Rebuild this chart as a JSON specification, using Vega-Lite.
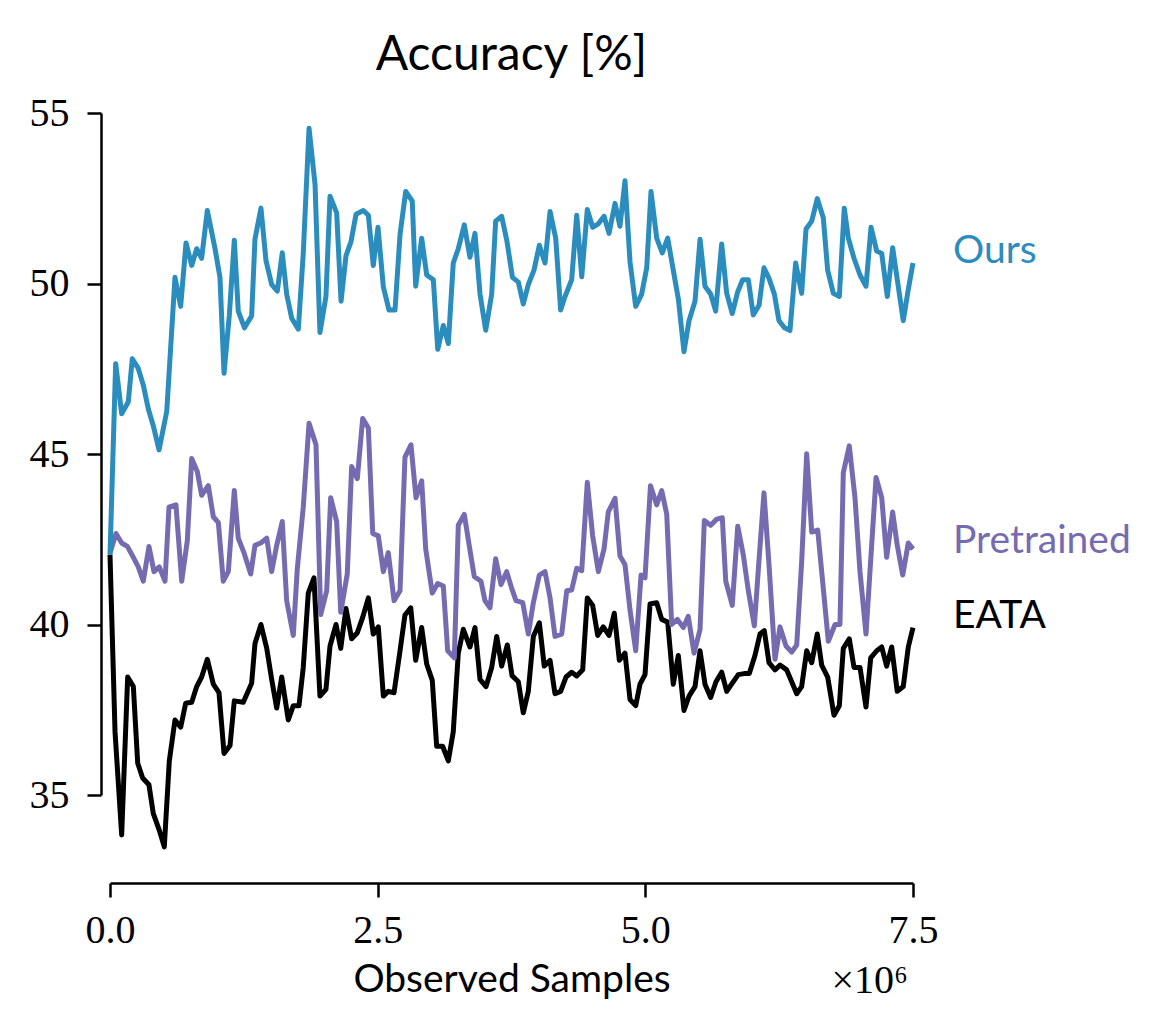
{
  "$schema": "https://vega.github.io/schema/vega-lite/v6.json",
  "width": 803,
  "height": 682,
  "autosize": "none",
  "padding": {"left": 110, "top": 113, "right": 250, "bottom": 239},
  "background": "white",
  "title": {"text": "Accuracy [%]", "font": "Lato", "fontSize": 48, "fontWeight": "normal", "color": "black", "anchor": "middle", "frame": "group", "baseline": "bottom", "offset": 33, "dy": 68},
  "config": {"view": {"stroke": null}},
  "datasets": {
    "ours": [
      {"x":0,"y":42.04},{"x":0.053,"y":47.65},{"x":0.109,"y":46.18},{"x":0.171,"y":46.53},{"x":0.208,"y":47.79},{"x":0.264,"y":47.51},{"x":0.311,"y":47.02},{"x":0.358,"y":46.32},{"x":0.404,"y":45.83},{"x":0.458,"y":45.12},{"x":0.53,"y":46.25},{"x":0.607,"y":50.18},{"x":0.66,"y":49.33},{"x":0.71,"y":51.19},{"x":0.763,"y":50.53},{"x":0.81,"y":51.02},{"x":0.856,"y":50.74},{"x":0.909,"y":52.14},{"x":0.981,"y":51.02},{"x":1.027,"y":50.18},{"x":1.065,"y":47.37},{"x":1.114,"y":49.05},{"x":1.161,"y":51.27},{"x":1.198,"y":49.19},{"x":1.256,"y":48.7},{"x":1.323,"y":49.05},{"x":1.354,"y":51.3},{"x":1.41,"y":52.21},{"x":1.457,"y":50.67},{"x":1.51,"y":49.97},{"x":1.563,"y":49.78},{"x":1.609,"y":50.9},{"x":1.65,"y":49.69},{"x":1.697,"y":48.98},{"x":1.759,"y":48.66},{"x":1.805,"y":50.88},{"x":1.859,"y":54.55},{"x":1.915,"y":52.91},{"x":1.961,"y":48.56},{"x":2.017,"y":49.62},{"x":2.055,"y":52.56},{"x":2.117,"y":52.07},{"x":2.158,"y":49.48},{"x":2.204,"y":50.81},{"x":2.251,"y":51.23},{"x":2.298,"y":52.03},{"x":2.366,"y":52.14},{"x":2.413,"y":52.0},{"x":2.459,"y":50.53},{"x":2.503,"y":51.65},{"x":2.553,"y":49.9},{"x":2.606,"y":49.22},{"x":2.662,"y":49.22},{"x":2.709,"y":51.44},{"x":2.762,"y":52.7},{"x":2.823,"y":52.42},{"x":2.855,"y":49.92},{"x":2.911,"y":51.33},{"x":2.958,"y":50.25},{"x":3.02,"y":50.11},{"x":3.061,"y":48.07},{"x":3.113,"y":48.77},{"x":3.16,"y":48.24},{"x":3.206,"y":50.6},{"x":3.253,"y":51.02},{"x":3.309,"y":51.72},{"x":3.362,"y":50.77},{"x":3.409,"y":51.47},{"x":3.456,"y":49.69},{"x":3.509,"y":48.63},{"x":3.565,"y":49.69},{"x":3.602,"y":51.83},{"x":3.658,"y":51.97},{"x":3.708,"y":51.23},{"x":3.759,"y":50.18},{"x":3.814,"y":50.04},{"x":3.86,"y":49.4},{"x":3.907,"y":49.97},{"x":3.96,"y":50.39},{"x":4.01,"y":51.12},{"x":4.063,"y":50.6},{"x":4.11,"y":52.11},{"x":4.163,"y":51.33},{"x":4.209,"y":49.22},{"x":4.25,"y":49.62},{"x":4.312,"y":50.11},{"x":4.359,"y":52.0},{"x":4.406,"y":50.2},{"x":4.458,"y":52.17},{"x":4.508,"y":51.65},{"x":4.561,"y":51.75},{"x":4.614,"y":51.97},{"x":4.661,"y":51.47},{"x":4.717,"y":52.35},{"x":4.763,"y":51.68},{"x":4.81,"y":53.01},{"x":4.857,"y":50.63},{"x":4.91,"y":49.33},{"x":4.966,"y":49.69},{"x":5.013,"y":50.46},{"x":5.053,"y":52.7},{"x":5.106,"y":51.33},{"x":5.158,"y":50.9},{"x":5.209,"y":51.33},{"x":5.261,"y":50.39},{"x":5.308,"y":49.55},{"x":5.361,"y":48.0},{"x":5.408,"y":48.91},{"x":5.464,"y":49.48},{"x":5.511,"y":51.3},{"x":5.557,"y":49.92},{"x":5.61,"y":49.69},{"x":5.657,"y":49.19},{"x":5.713,"y":51.16},{"x":5.76,"y":49.71},{"x":5.812,"y":49.12},{"x":5.863,"y":49.76},{"x":5.909,"y":50.11},{"x":5.962,"y":50.11},{"x":6.008,"y":49.08},{"x":6.062,"y":49.36},{"x":6.108,"y":50.46},{"x":6.155,"y":50.15},{"x":6.205,"y":49.69},{"x":6.248,"y":48.91},{"x":6.3,"y":48.7},{"x":6.351,"y":48.62},{"x":6.404,"y":50.6},{"x":6.46,"y":49.71},{"x":6.501,"y":51.6},{"x":6.554,"y":51.83},{"x":6.606,"y":52.49},{"x":6.662,"y":51.93},{"x":6.703,"y":50.39},{"x":6.756,"y":49.71},{"x":6.812,"y":49.62},{"x":6.858,"y":52.21},{"x":6.896,"y":51.33},{"x":6.949,"y":50.74},{"x":7.005,"y":50.25},{"x":7.061,"y":49.92},{"x":7.108,"y":51.65},{"x":7.161,"y":50.95},{"x":7.208,"y":50.88},{"x":7.26,"y":49.62},{"x":7.31,"y":51.05},{"x":7.363,"y":49.9},{"x":7.409,"y":48.91},{"x":7.456,"y":49.83},{"x":7.5,"y":50.6}
    ],
    "pre": [
      {"x":0,"y":42.1},{"x":0.056,"y":42.67},{"x":0.109,"y":42.39},{"x":0.162,"y":42.29},{"x":0.218,"y":41.97},{"x":0.264,"y":41.69},{"x":0.311,"y":41.27},{"x":0.364,"y":42.29},{"x":0.411,"y":41.55},{"x":0.46,"y":41.69},{"x":0.514,"y":41.27},{"x":0.551,"y":43.44},{"x":0.616,"y":43.51},{"x":0.67,"y":41.27},{"x":0.722,"y":42.46},{"x":0.763,"y":44.87},{"x":0.815,"y":44.49},{"x":0.856,"y":43.79},{"x":0.918,"y":44.07},{"x":0.965,"y":43.16},{"x":1.012,"y":42.99},{"x":1.058,"y":41.27},{"x":1.105,"y":41.55},{"x":1.161,"y":43.93},{"x":1.198,"y":42.53},{"x":1.252,"y":42.1},{"x":1.314,"y":41.48},{"x":1.354,"y":42.32},{"x":1.408,"y":42.39},{"x":1.464,"y":42.53},{"x":1.51,"y":41.55},{"x":1.557,"y":42.32},{"x":1.609,"y":43.02},{"x":1.65,"y":40.7},{"x":1.712,"y":39.68},{"x":1.749,"y":41.62},{"x":1.805,"y":43.44},{"x":1.859,"y":45.9},{"x":1.924,"y":45.27},{"x":1.968,"y":40.29},{"x":2.024,"y":40.99},{"x":2.061,"y":43.72},{"x":2.117,"y":43.02},{"x":2.155,"y":40.36},{"x":2.216,"y":41.48},{"x":2.257,"y":44.63},{"x":2.31,"y":44.28},{"x":2.36,"y":46.04},{"x":2.413,"y":45.76},{"x":2.454,"y":42.67},{"x":2.506,"y":42.6},{"x":2.553,"y":41.55},{"x":2.599,"y":42.11},{"x":2.653,"y":40.7},{"x":2.709,"y":40.99},{"x":2.755,"y":44.91},{"x":2.811,"y":45.27},{"x":2.858,"y":43.72},{"x":2.911,"y":44.21},{"x":2.949,"y":42.21},{"x":3.01,"y":40.92},{"x":3.061,"y":41.2},{"x":3.113,"y":41.13},{"x":3.154,"y":39.23},{"x":3.216,"y":39.02},{"x":3.253,"y":42.91},{"x":3.309,"y":43.23},{"x":3.362,"y":42.18},{"x":3.402,"y":41.41},{"x":3.465,"y":41.27},{"x":3.502,"y":40.7},{"x":3.549,"y":40.49},{"x":3.602,"y":41.93},{"x":3.652,"y":41.17},{"x":3.705,"y":41.55},{"x":3.752,"y":41.06},{"x":3.792,"y":40.7},{"x":3.855,"y":40.64},{"x":3.907,"y":39.72},{"x":3.954,"y":40.64},{"x":4.01,"y":41.45},{"x":4.063,"y":41.55},{"x":4.11,"y":40.78},{"x":4.156,"y":39.65},{"x":4.219,"y":39.72},{"x":4.266,"y":40.99},{"x":4.312,"y":41.01},{"x":4.359,"y":41.65},{"x":4.406,"y":41.58},{"x":4.458,"y":44.17},{"x":4.508,"y":42.6},{"x":4.561,"y":41.55},{"x":4.614,"y":42.21},{"x":4.654,"y":43.3},{"x":4.717,"y":43.7},{"x":4.763,"y":42.01},{"x":4.81,"y":41.76},{"x":4.857,"y":40.42},{"x":4.91,"y":39.23},{"x":4.96,"y":41.45},{"x":4.997,"y":41.37},{"x":5.048,"y":44.07},{"x":5.106,"y":43.51},{"x":5.153,"y":43.93},{"x":5.2,"y":43.23},{"x":5.246,"y":40.0},{"x":5.299,"y":40.15},{"x":5.355,"y":39.91},{"x":5.401,"y":40.24},{"x":5.455,"y":39.16},{"x":5.511,"y":39.86},{"x":5.551,"y":43.05},{"x":5.61,"y":42.91},{"x":5.667,"y":43.09},{"x":5.719,"y":43.13},{"x":5.751,"y":41.27},{"x":5.812,"y":40.56},{"x":5.863,"y":42.88},{"x":5.915,"y":42.04},{"x":5.962,"y":40.99},{"x":6.018,"y":39.96},{"x":6.062,"y":41.9},{"x":6.108,"y":43.86},{"x":6.155,"y":41.76},{"x":6.211,"y":38.98},{"x":6.258,"y":39.93},{"x":6.314,"y":39.37},{"x":6.367,"y":39.19},{"x":6.414,"y":39.4},{"x":6.46,"y":41.83},{"x":6.507,"y":45.01},{"x":6.554,"y":42.71},{"x":6.61,"y":42.77},{"x":6.662,"y":41.06},{"x":6.709,"y":39.51},{"x":6.772,"y":40.0},{"x":6.818,"y":40.0},{"x":6.849,"y":44.45},{"x":6.905,"y":45.24},{"x":6.958,"y":43.72},{"x":7.005,"y":41.55},{"x":7.061,"y":39.72},{"x":7.108,"y":42.04},{"x":7.155,"y":44.31},{"x":7.208,"y":43.72},{"x":7.254,"y":41.97},{"x":7.31,"y":43.3},{"x":7.353,"y":42.32},{"x":7.404,"y":41.45},{"x":7.456,"y":42.39},{"x":7.5,"y":42.21}
    ],
    "eata": [
      {"x":0,"y":42.04},{"x":0.047,"y":36.85},{"x":0.109,"y":33.83},{"x":0.165,"y":38.46},{"x":0.218,"y":38.18},{"x":0.259,"y":35.93},{"x":0.305,"y":35.5},{"x":0.364,"y":35.3},{"x":0.404,"y":34.46},{"x":0.46,"y":33.97},{"x":0.507,"y":33.48},{"x":0.554,"y":36.0},{"x":0.607,"y":37.2},{"x":0.66,"y":36.99},{"x":0.707,"y":37.69},{"x":0.763,"y":37.72},{"x":0.81,"y":38.18},{"x":0.856,"y":38.46},{"x":0.909,"y":38.98},{"x":0.965,"y":38.25},{"x":1.018,"y":38.0},{"x":1.065,"y":36.22},{"x":1.121,"y":36.45},{"x":1.161,"y":37.76},{"x":1.245,"y":37.72},{"x":1.323,"y":38.28},{"x":1.354,"y":39.44},{"x":1.41,"y":40.0},{"x":1.464,"y":39.3},{"x":1.51,"y":38.39},{"x":1.557,"y":37.55},{"x":1.604,"y":38.46},{"x":1.665,"y":37.2},{"x":1.712,"y":37.62},{"x":1.765,"y":37.62},{"x":1.805,"y":38.74},{"x":1.852,"y":40.92},{"x":1.905,"y":41.37},{"x":1.961,"y":37.9},{"x":2.017,"y":38.1},{"x":2.055,"y":39.37},{"x":2.111,"y":40.0},{"x":2.155,"y":39.3},{"x":2.204,"y":40.47},{"x":2.257,"y":39.58},{"x":2.31,"y":39.76},{"x":2.36,"y":40.21},{"x":2.413,"y":40.78},{"x":2.459,"y":39.72},{"x":2.506,"y":39.93},{"x":2.553,"y":37.9},{"x":2.599,"y":38.04},{"x":2.653,"y":38.0},{"x":2.709,"y":39.23},{"x":2.755,"y":40.28},{"x":2.809,"y":40.49},{"x":2.855,"y":38.95},{"x":2.911,"y":39.91},{"x":2.958,"y":38.84},{"x":3.01,"y":38.36},{"x":3.051,"y":36.43},{"x":3.107,"y":36.43},{"x":3.16,"y":36.0},{"x":3.206,"y":36.85},{"x":3.253,"y":39.16},{"x":3.3,"y":39.86},{"x":3.362,"y":39.34},{"x":3.409,"y":39.91},{"x":3.456,"y":38.39},{"x":3.512,"y":38.18},{"x":3.565,"y":38.74},{"x":3.612,"y":39.65},{"x":3.658,"y":38.78},{"x":3.711,"y":39.4},{"x":3.755,"y":38.5},{"x":3.814,"y":38.32},{"x":3.86,"y":37.41},{"x":3.907,"y":38.04},{"x":3.954,"y":39.65},{"x":4.01,"y":40.05},{"x":4.056,"y":38.78},{"x":4.11,"y":38.95},{"x":4.156,"y":37.97},{"x":4.209,"y":38.04},{"x":4.259,"y":38.46},{"x":4.312,"y":38.6},{"x":4.359,"y":38.49},{"x":4.415,"y":38.67},{"x":4.458,"y":40.78},{"x":4.508,"y":40.56},{"x":4.555,"y":39.68},{"x":4.607,"y":39.93},{"x":4.661,"y":39.68},{"x":4.71,"y":40.33},{"x":4.757,"y":38.95},{"x":4.81,"y":39.16},{"x":4.857,"y":37.8},{"x":4.91,"y":37.62},{"x":4.95,"y":38.25},{"x":4.997,"y":38.53},{"x":5.044,"y":40.6},{"x":5.106,"y":40.64},{"x":5.153,"y":40.15},{"x":5.209,"y":40.07},{"x":5.261,"y":38.25},{"x":5.308,"y":39.09},{"x":5.361,"y":37.48},{"x":5.408,"y":37.9},{"x":5.464,"y":38.18},{"x":5.511,"y":39.23},{"x":5.557,"y":38.25},{"x":5.61,"y":37.86},{"x":5.66,"y":38.32},{"x":5.713,"y":38.6},{"x":5.76,"y":38.04},{"x":5.812,"y":38.28},{"x":5.868,"y":38.53},{"x":5.922,"y":38.56},{"x":5.971,"y":38.56},{"x":6.024,"y":39.09},{"x":6.071,"y":39.72},{"x":6.111,"y":39.82},{"x":6.155,"y":38.88},{"x":6.211,"y":38.67},{"x":6.258,"y":38.81},{"x":6.32,"y":38.67},{"x":6.367,"y":38.32},{"x":6.414,"y":37.97},{"x":6.46,"y":38.18},{"x":6.507,"y":39.23},{"x":6.554,"y":38.88},{"x":6.606,"y":39.72},{"x":6.647,"y":38.81},{"x":6.703,"y":38.46},{"x":6.762,"y":37.34},{"x":6.812,"y":37.62},{"x":6.849,"y":39.3},{"x":6.905,"y":39.58},{"x":6.949,"y":38.74},{"x":7.005,"y":38.74},{"x":7.061,"y":37.58},{"x":7.105,"y":39.02},{"x":7.161,"y":39.23},{"x":7.208,"y":39.34},{"x":7.254,"y":38.78},{"x":7.301,"y":39.34},{"x":7.353,"y":38.04},{"x":7.409,"y":38.18},{"x":7.456,"y":39.34},{"x":7.5,"y":39.91}
    ],
    "labels": [
      {"x":7.874,"y":50.95,"label":"Ours"},
      {"x":7.874,"y":42.45,"label":"Pretrained"},
      {"x":7.874,"y":40.25,"label":"EATA"}
    ],
    "offset": [
      {"x":7.5,"y":29.55,"t":"×10⁶"}
    ]
  },
  "encoding": {
    "x": {"field": "x", "type": "quantitative",
      "scale": {"domain": [0, 7.5], "nice": false, "zero": false},
      "axis": {"values": [0, 2.5, 5, 7.5], "format": ".1f", "offset": 88, "grid": false,
        "domainColor": "black", "domainWidth": 2.5, "tickColor": "black", "tickWidth": 2.5, "tickSize": 14,
        "labelFont": "Liberation Serif", "labelFontSize": 40, "labelColor": "black", "labelPadding": 13,
        "labelFlush": false, "labelOverlap": false,
        "title": "Observed Samples", "titleFont": "Lato", "titleFontSize": 39, "titleFontWeight": "normal", "titleColor": "black", "titlePadding": 10}},
    "y": {"field": "y", "type": "quantitative",
      "scale": {"domain": [35, 55], "nice": false, "zero": false},
      "axis": {"values": [35, 40, 45, 50, 55], "offset": 9, "grid": false,
        "domainColor": "black", "domainWidth": 2.5, "tickColor": "black", "tickWidth": 2.5, "tickSize": 14,
        "labelFont": "Liberation Serif", "labelFontSize": 40, "labelColor": "black", "labelPadding": 18,
        "labelFlush": false, "labelOverlap": false, "title": null}}
  },
  "layer": [
    {"data": {"name": "eata"}, "mark": {"type": "line", "color": "black", "strokeWidth": 5, "strokeJoin": "round", "clip": false}},
    {"data": {"name": "pre"}, "mark": {"type": "line", "color": "#756bb1", "strokeWidth": 5, "strokeJoin": "round", "clip": false}},
    {"data": {"name": "ours"}, "mark": {"type": "line", "color": "#2b8cbe", "strokeWidth": 5, "strokeJoin": "round", "clip": false}},
    {"data": {"name": "labels"}, "mark": {"type": "text", "align": "left", "baseline": "middle", "font": "Lato", "fontSize": 39},
      "encoding": {"text": {"field": "label"},
        "color": {"field": "label", "type": "nominal", "legend": null,
          "scale": {"domain": ["Ours", "Pretrained", "EATA"], "range": ["#2b8cbe", "#756bb1", "black"]}}}},
    {"data": {"name": "offset"}, "mark": {"type": "text", "align": "right", "baseline": "middle", "font": "Liberation Serif", "fontSize": 40, "color": "black", "dx": -5},
      "encoding": {"text": {"field": "t"}}}
  ]
}
